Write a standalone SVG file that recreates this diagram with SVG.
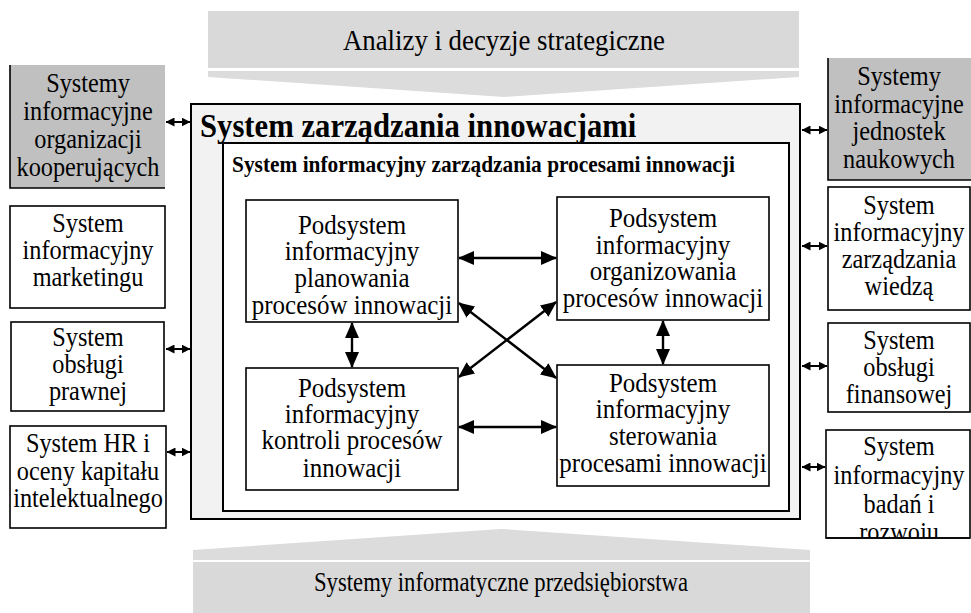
<svg xmlns="http://www.w3.org/2000/svg" width="971" height="613" viewBox="0 0 971 613">
<style>
text{font-family:"Liberation Serif","Times New Roman",serif;fill:#000;text-anchor:middle}
.t{font-size:27px}
.b{font-size:30px}
.bb{font-size:28px}
.box{fill:#fff;stroke:#000;stroke-width:1.6}
.gray{fill:#c0c0c0}
.edge{stroke:#000;stroke-width:1.6;fill:none}
.ia{stroke:#000;stroke-width:2.4;fill:none;marker-start:url(#ah);marker-end:url(#ah)}
.sa{stroke:#000;stroke-width:2;fill:none;marker-start:url(#sh);marker-end:url(#sh)}
.band{fill:#d9d9d9}
.chev{fill:#dcdcdc}
</style>
<defs>
<marker id="ah" markerUnits="userSpaceOnUse" markerWidth="16" markerHeight="14" refX="15" refY="7" orient="auto-start-reverse" viewBox="0 0 16 14"><path d="M0,0 L16,7 L0,14 z" fill="#000"/></marker>
<marker id="sh" markerUnits="userSpaceOnUse" markerWidth="9" markerHeight="9" refX="8.5" refY="4.5" orient="auto-start-reverse" viewBox="0 0 9 9"><path d="M0,0 L9,4.5 L0,9 z" fill="#000"/></marker>
<clipPath id="r4clip"><rect x="826" y="430" width="146" height="108"/></clipPath>
</defs>

<g id="top-banner">
<rect class="band" x="208" y="11" width="591" height="57"/>
<polygon class="chev" points="208,71 799,71 799,77 504,97 208,77"/>
<text class="b" transform="matrix(0.893,0,0,1,504,50)">Analizy i decyzje strategiczne</text>
</g>

<g id="bottom-banner">
<polygon class="chev" points="193,550 501,529 810,550 810,560 193,560"/>
<rect class="band" x="193" y="562" width="617" height="51"/>
<text class="bb" transform="matrix(0.81,0,0,1,501,591)">Systemy informatyczne przedsiębiorstwa</text>
</g>

<g id="main-system">
<rect x="191" y="104" width="609" height="415" fill="#f2f2f2" stroke="#000" stroke-width="2"/>
<text transform="matrix(0.93,0,0,1,200,137)" style="font-size:33px;font-weight:bold;text-anchor:start">System zarządzania innowacjami</text>
</g>

<g id="info-system">
<rect x="223" y="143" width="566" height="368" fill="#fff" stroke="#000" stroke-width="2"/>
<text transform="matrix(0.93,0,0,1,232,172)" style="font-size:23px;font-weight:bold;text-anchor:start">System informacyjny zarządzania procesami innowacji</text>
</g>

<g id="sub-planowania">
<rect class="box" x="246" y="200" width="212" height="122"/>
<text class="t" transform="matrix(0.925,0,0,1,352,234)">Podsystem</text>
<text class="t" transform="matrix(0.925,0,0,1,352,260)">informacyjny</text>
<text class="t" transform="matrix(0.925,0,0,1,352,287)">planowania</text>
<text class="t" transform="matrix(0.925,0,0,1,352,314)">procesów innowacji</text>
</g>

<g id="sub-organizowania">
<rect class="box" x="557" y="197" width="212" height="123"/>
<text class="t" transform="matrix(0.925,0,0,1,663,227)">Podsystem</text>
<text class="t" transform="matrix(0.925,0,0,1,663,254)">informacyjny</text>
<text class="t" transform="matrix(0.925,0,0,1,663,280)">organizowania</text>
<text class="t" transform="matrix(0.925,0,0,1,663,307)">procesów innowacji</text>
</g>

<g id="sub-kontroli">
<rect class="box" x="246" y="368" width="212" height="122"/>
<text class="t" transform="matrix(0.925,0,0,1,352,397)">Podsystem</text>
<text class="t" transform="matrix(0.925,0,0,1,352,423)">informacyjny</text>
<text class="t" transform="matrix(0.925,0,0,1,352,449)">kontroli procesów</text>
<text class="t" transform="matrix(0.925,0,0,1,352,477)">innowacji</text>
</g>

<g id="sub-sterowania">
<rect class="box" x="557" y="365" width="212" height="121"/>
<text class="t" transform="matrix(0.925,0,0,1,663,392)">Podsystem</text>
<text class="t" transform="matrix(0.925,0,0,1,663,418)">informacyjny</text>
<text class="t" transform="matrix(0.925,0,0,1,663,445)">sterowania</text>
<text class="t" transform="matrix(0.925,0,0,1,663,472)">procesami innowacji</text>
</g>

<g id="left-kooperujacych">
<rect class="gray" x="10" y="65" width="155" height="123"/>
<path class="edge" d="M10,65 V188 H165"/>
<text class="t" transform="matrix(0.9,0,0,1,88,92)">Systemy</text>
<text class="t" transform="matrix(0.9,0,0,1,88,120)">informacyjne</text>
<text class="t" transform="matrix(0.9,0,0,1,88,148)">organizacji</text>
<text class="t" transform="matrix(0.9,0,0,1,88,176)">kooperujących</text>
</g>

<g id="left-marketing">
<rect class="box" x="10" y="206" width="155" height="102"/>
<text class="t" transform="matrix(0.9,0,0,1,88,232)">System</text>
<text class="t" transform="matrix(0.9,0,0,1,88,259)">informacyjny</text>
<text class="t" transform="matrix(0.9,0,0,1,88,286)">marketingu</text>
</g>

<g id="left-prawna">
<rect class="box" x="11" y="322" width="153" height="89"/>
<text class="t" transform="matrix(0.9,0,0,1,88,346)">System</text>
<text class="t" transform="matrix(0.9,0,0,1,88,373)">obsługi</text>
<text class="t" transform="matrix(0.9,0,0,1,88,400)">prawnej</text>
</g>

<g id="left-hr">
<rect class="box" x="10" y="426" width="156" height="102"/>
<text class="t" transform="matrix(0.9,0,0,1,88,452)">System HR i</text>
<text class="t" transform="matrix(0.9,0,0,1,88,480)">oceny kapitału</text>
<text class="t" transform="matrix(0.9,0,0,1,88,507)">intelektualnego</text>
</g>

<g id="right-naukowe">
<rect class="gray" x="828" y="58" width="143" height="122"/>
<path class="edge" d="M828,58 V180 H971"/>
<text class="t" transform="matrix(0.9,0,0,1,899,85)">Systemy</text>
<text class="t" transform="matrix(0.9,0,0,1,899,113)">informacyjne</text>
<text class="t" transform="matrix(0.9,0,0,1,899,140)">jednostek</text>
<text class="t" transform="matrix(0.9,0,0,1,899,168)">naukowych</text>
</g>

<g id="right-wiedza">
<rect class="box" x="828" y="187" width="142" height="123"/>
<text class="t" transform="matrix(0.9,0,0,1,899,214)">System</text>
<text class="t" transform="matrix(0.9,0,0,1,899,241)">informacyjny</text>
<text class="t" transform="matrix(0.9,0,0,1,899,268)">zarządzania</text>
<text class="t" transform="matrix(0.9,0,0,1,899,295)">wiedzą</text>
</g>

<g id="right-finansowa">
<rect class="box" x="828" y="323" width="142" height="89"/>
<text class="t" transform="matrix(0.9,0,0,1,899,349)">System</text>
<text class="t" transform="matrix(0.9,0,0,1,899,376)">obsługi</text>
<text class="t" transform="matrix(0.9,0,0,1,899,403)">finansowej</text>
</g>

<g id="right-badania">
<rect class="box" x="826" y="430" width="144" height="108"/>
<g clip-path="url(#r4clip)">
<text class="t" transform="matrix(0.9,0,0,1,899,455)">System</text>
<text class="t" transform="matrix(0.9,0,0,1,899,484)">informacyjny</text>
<text class="t" transform="matrix(0.9,0,0,1,899,513)">badań i</text>
<text class="t" transform="matrix(0.9,0,0,1,899,541)">rozwoju</text>
</g>
<line class="edge" x1="826" y1="538" x2="970" y2="538"/>
</g>

<g id="connectors">
<line class="ia" x1="459" y1="258" x2="556" y2="258"/>
<line class="ia" x1="459" y1="427" x2="556" y2="427"/>
<line class="ia" x1="352" y1="323" x2="352" y2="367"/>
<line class="ia" x1="663" y1="321" x2="663" y2="364"/>
<line class="ia" x1="459" y1="303" x2="556" y2="378"/>
<line class="ia" x1="459" y1="377" x2="556" y2="302"/>
<line class="sa" x1="166" y1="122" x2="190" y2="122"/>
<line class="sa" x1="166" y1="349" x2="190" y2="349"/>
<line class="sa" x1="167" y1="452" x2="190" y2="452"/>
<line class="sa" x1="802" y1="130" x2="827" y2="130"/>
<line class="sa" x1="802" y1="246" x2="827" y2="246"/>
<line class="sa" x1="802" y1="366" x2="827" y2="366"/>
<line class="sa" x1="802" y1="467" x2="825" y2="467"/>
</g>
</svg>
